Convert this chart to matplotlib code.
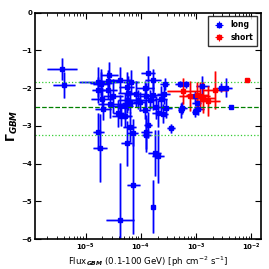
import numpy as np
import matplotlib
matplotlib.use("Agg")
import matplotlib.pyplot as plt

# long GRBs: log10 flux, index, errors (dex / index units)
long_logf = [-5.43, -5.39, -4.77, -4.73, -4.57, -4.59, -4.72, -4.77, -4.50, -4.71,
             -4.59, -4.56, -4.69, -4.38, -4.18, -4.26, -4.23, -4.26, -4.20, -4.29,
             -4.38, -4.41, -4.37, -4.28, -4.20, -4.15, -4.77, -4.74, -4.26, -4.14,
             -4.38, -4.08, -4.05, -4.02, -3.93, -3.87, -3.78, -3.90, -3.84, -3.93,
             -3.78, -3.64, -3.72, -3.69, -3.87, -3.90, -3.90, -3.75, -3.69, -3.78,
             -3.60, -3.59, -3.57, -3.54, -3.45, -3.30, -3.19, -3.27, -3.25, -3.02,
             -2.99, -2.96, -2.89, -2.54, -2.45, -2.37, -3.02]
long_gam = [-1.49, -1.92, -1.84, -1.87, -1.65, -1.81, -1.89, -2.05, -2.22, -2.28,
            -2.05, -2.43, -2.55, -1.78, -1.83, -1.98, -2.14, -2.31, -2.40, -2.47,
            -2.47, -2.67, -2.75, -2.73, -3.02, -3.18, -3.15, -3.59, -3.46, -4.56,
            -5.49, -2.16, -2.31, -2.36, -2.00, -1.59, -1.78, -2.22, -2.31, -2.58,
            -2.18, -2.29, -2.51, -2.67, -2.97, -3.15, -3.24, -3.72, -3.80, -5.14,
            -2.68, -2.16, -1.89, -2.53, -3.06, -1.89, -1.90, -2.59, -2.53, -2.62,
            -2.40, -2.56, -1.94, -1.99, -1.99, -2.49, -2.22]
long_xerr = [0.28, 0.20, 0.35, 0.20, 0.15, 0.22, 0.15, 0.12, 0.18, 0.20,
             0.15, 0.22, 0.15, 0.20, 0.15, 0.14, 0.18, 0.15, 0.15, 0.14,
             0.12, 0.10, 0.15, 0.12, 0.12, 0.10, 0.10, 0.12, 0.10, 0.12,
             0.25, 0.15, 0.14, 0.12, 0.16, 0.12, 0.15, 0.14, 0.12, 0.10,
             0.14, 0.12, 0.15, 0.10, 0.08, 0.10, 0.08, 0.12, 0.10, 0.04,
             0.10, 0.12, 0.08, 0.10, 0.07, 0.08, 0.07, 0.06, 0.08, 0.06,
             0.08, 0.10, 0.12, 0.08, 0.10, 0.04, 0.08]
long_yerr = [0.30, 0.35, 0.40, 0.30, 0.35, 0.30, 0.40, 0.35, 0.45, 0.30,
             0.25, 0.35, 0.30, 0.35, 0.30, 0.40, 0.45, 0.35, 0.25, 0.35,
             0.30, 0.35, 0.25, 0.30, 0.40, 0.35, 0.50, 0.90, 0.60, 1.30,
             1.50, 0.35, 0.25, 0.25, 0.20, 0.45, 0.30, 0.35, 0.25, 0.25,
             0.40, 0.35, 0.30, 0.35, 0.35, 0.45, 0.45, 0.60, 0.70, 0.70,
             0.25, 0.25, 0.15, 0.25, 0.12, 0.08, 0.10, 0.20, 0.15, 0.15,
             0.20, 0.15, 0.25, 0.12, 0.25, 0.05, 0.15]

short_logf = [-3.23, -3.11, -2.93, -2.87, -2.78, -2.65, -2.07, -2.98]
short_gam = [-2.07, -2.20, -2.20, -2.25, -2.34, -2.05, -1.78, -2.18]
short_xerr = [0.30, 0.20, 0.18, 0.22, 0.22, 0.22, 0.05, 0.20]
short_yerr = [0.35, 0.40, 0.35, 0.40, 0.40, 0.50, 0.06, 0.35]

g_mean = -2.49
g_lo = -3.23
g_hi = -1.85


def errs(logf, xerr):
    logf = np.array(logf)
    xerr = np.array(xerr)
    f = 10 ** logf
    lo = f - 10 ** (logf - xerr)
    hi = 10 ** (logf + xerr) - f
    return f, [lo, hi]


fig = plt.figure(figsize=(2.69, 2.69), dpi=100)
ax = fig.add_axes([0.13, 0.111, 0.84, 0.842])

f, xe = errs(long_logf, long_xerr)
ax.errorbar(f, long_gam, xerr=xe, yerr=long_yerr, fmt="none", ecolor="b",
            elinewidth=2.0, alpha=0.4, capsize=0)
ax.errorbar(f, long_gam, xerr=xe, yerr=long_yerr, fmt="s", color="b",
            ms=3, elinewidth=0.8, capsize=0, label="long")

f, xe = errs(short_logf, short_xerr)
ax.errorbar(f, short_gam, xerr=xe, yerr=short_yerr, fmt="none", ecolor="r",
            elinewidth=2.0, alpha=0.4, capsize=0)
ax.errorbar(f, short_gam, xerr=xe, yerr=short_yerr, fmt="s", color="r",
            ms=3, elinewidth=0.8, capsize=0, label="short")

ax.axhline(g_mean, color="g", ls="--", lw=0.9)
ax.axhline(g_lo, color="limegreen", ls=":", lw=0.9)
ax.axhline(g_hi, color="limegreen", ls=":", lw=0.9)

ax.set_xscale("log")
ax.set_xlim(1.2e-6, 1.5e-2)
ax.set_ylim(-6, 0)
ax.set_yticks([0, -1, -2, -3, -4, -5, -6])
ax.tick_params(which="both", direction="in", top=True, right=True, labelsize=5, pad=2)
ax.tick_params(which="major", length=4)
ax.tick_params(which="minor", length=2)
for t in ax.get_xticklabels() + ax.get_yticklabels():
    t.set_fontweight("bold")
for s in ax.spines.values():
    s.set_linewidth(1.2)

ax.set_xlabel(r"Flux$_{\mathbfit{GBM}}$ (0.1-100 GeV) [ph cm$^{-2}$ s$^{-1}$]", fontsize=6.2, labelpad=1)
ax.set_ylabel(r"$\mathbf{\Gamma}_{\mathbfit{GBM}}$", fontsize=9, labelpad=1)

leg = ax.legend(loc="upper right", prop={"weight": "bold", "size": 5.5},
                handletextpad=0.5, borderpad=0.5, frameon=True, fancybox=False)
leg.get_frame().set_edgecolor("k")

fig.savefig("out.png", dpi=100)
